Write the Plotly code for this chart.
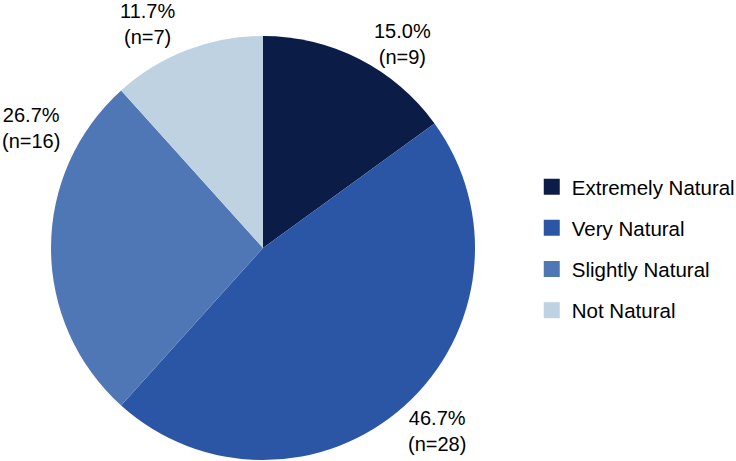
import math
import plotly.graph_objects as go

categories = ["Extremely Natural", "Very Natural", "Slightly Natural", "Not Natural"]
counts = [9, 28, 16, 7]
colors = ["#0b1c47", "#2a56a5", "#5077b5", "#bfd2e2"]

W, H = 736, 461
# pie centre / radius in pixels, labels placed round it like the original
cx, cy, r = 263, 248, 212
angle_nudge = [7, -2, 28, -6]      # label moved off the slice middle (deg)
label_dist = [1.18, 1.18, 1.24, 1.20]

fig = go.Figure()

fig.add_trace(go.Pie(
    labels=categories,
    values=counts,
    sort=False,
    direction="clockwise",
    rotation=0,
    marker=dict(colors=colors, line=dict(width=0)),
    textinfo="none",
    showlegend=False,
    domain=dict(x=[(cx - r) / W, (cx + r) / W], y=[1 - (cy + r) / H, 1 - (cy - r) / H]),
))

# data labels outside the slices
total = sum(counts)
cum = 0
for v, nudge, d in zip(counts, angle_nudge, label_dist):
    theta = math.radians(360 * (cum + v / 2) / total + nudge)
    cum += v
    px = cx + d * r * math.sin(theta)
    py = cy - d * r * math.cos(theta)
    fig.add_annotation(
        x=px / W, y=1 - py / H, xref="paper", yref="paper",
        text=f"{v / total:.1%}<br>(n={v})", showarrow=False,
        xanchor="center", yanchor="middle", yshift=-3,
        font=dict(size=20, color="black", family="Liberation Sans"),
    )

# legend entries as separate groups so the gap between them can be set
for name, col in zip(categories, colors):
    fig.add_trace(go.Scatter(
        x=[None], y=[None], mode="markers", name=name, legendgroup=name,
        marker=dict(symbol="square", size=16, color=col),
    ))

fig.update_layout(
    width=W, height=H,
    margin=dict(l=0, r=0, t=0, b=0, autoexpand=False),
    paper_bgcolor="white", plot_bgcolor="white",
    xaxis=dict(visible=False), yaxis=dict(visible=False),
    legend=dict(
        x=0.7225, y=0.638, xanchor="left", yanchor="top",
        font=dict(size=20.5, color="black", family="Liberation Sans"),
        tracegroupgap=11.5, itemwidth=30,
    ),
)

# drop the browser's default page margin so the figure sits at 0,0
fig.write_html("out.html", config={"displayModeBar": False},
               post_script="document.body.style.margin='0';")
